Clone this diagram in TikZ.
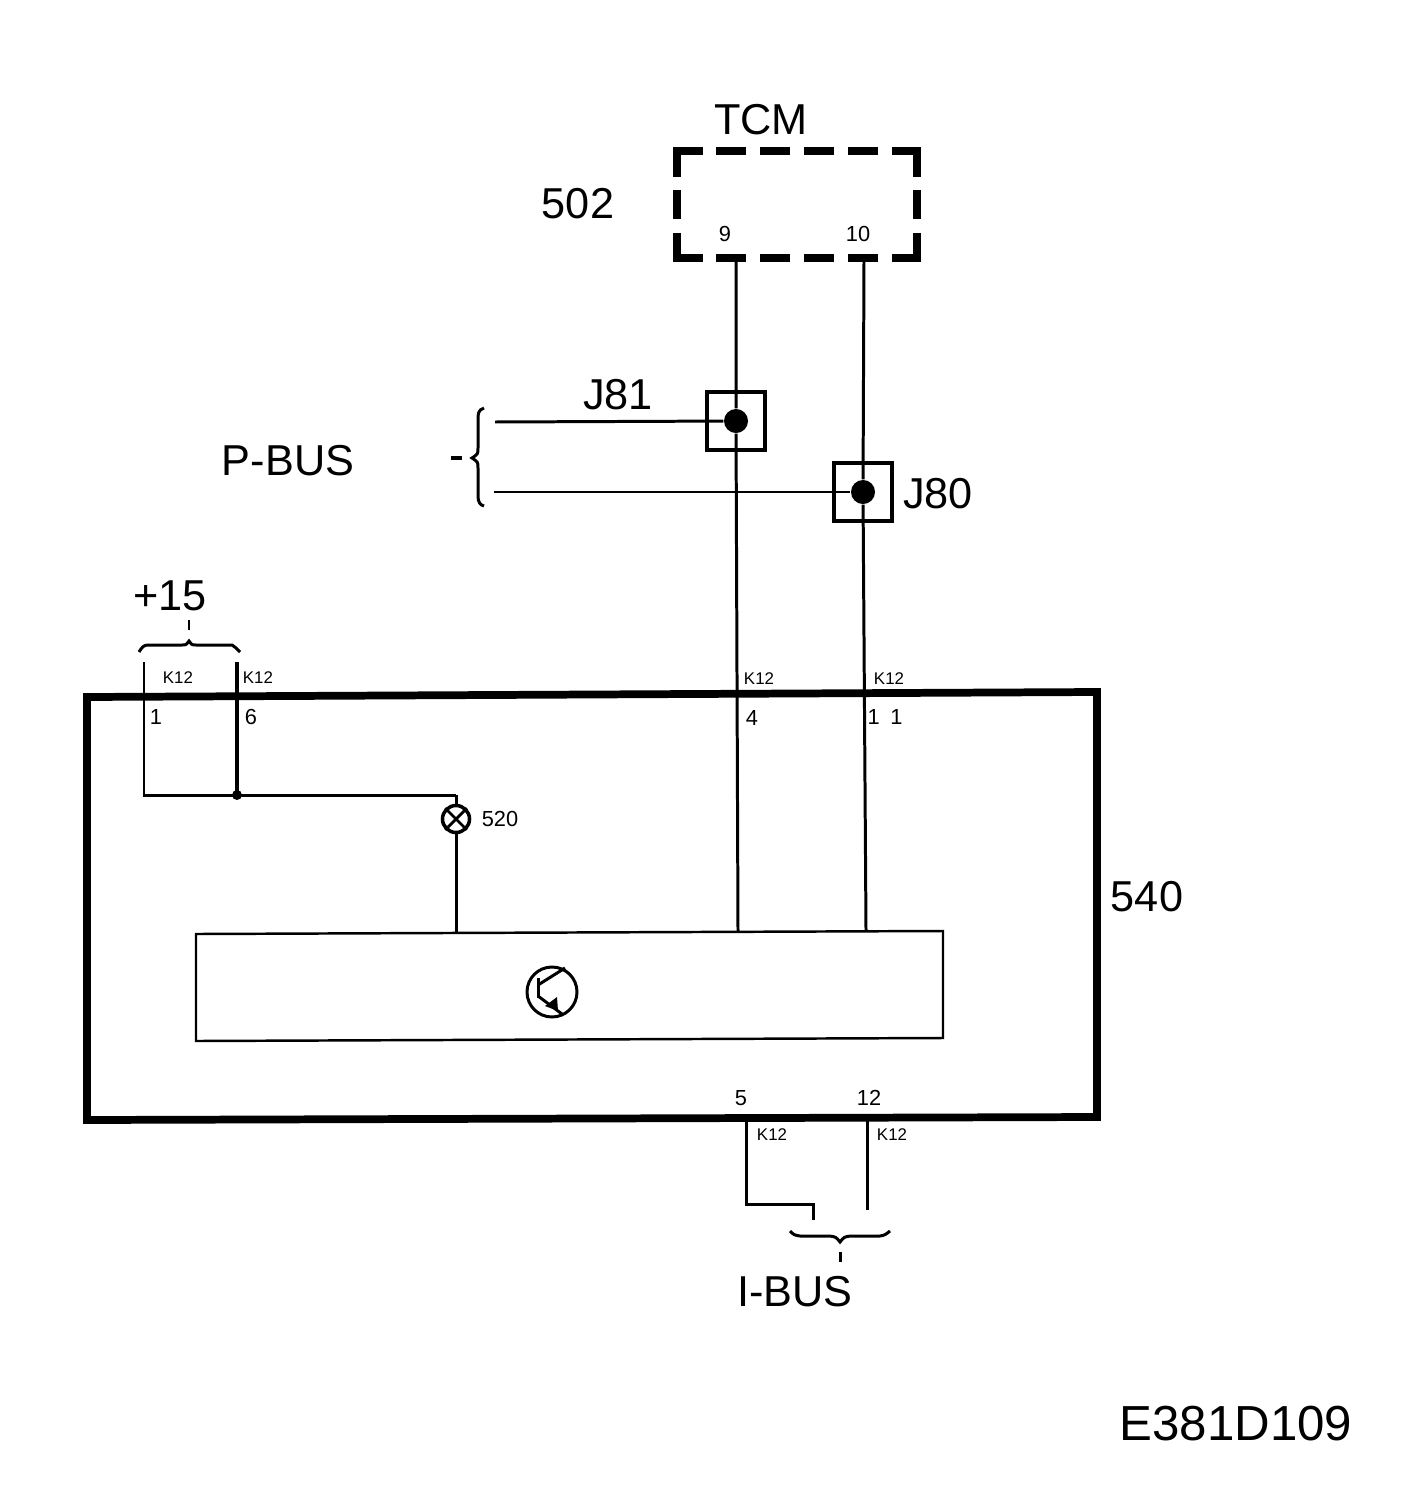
\documentclass[tikz,border=0pt]{standalone}
\usepackage{fontspec}
\setmainfont{Liberation Sans}
\usetikzlibrary{calc}
\tikzset{
	wire/.style={line width=0.85pt},
	frameline/.style={line width=2.2pt},
	tcmline/.style={line width=2.3pt},
	bigtext/.style={inner sep=0pt, font=\fontsize{12.3}{12.3}\selectfont},
	pintext/.style={inner sep=0pt, font=\fontsize{6.2}{6.2}\selectfont},
	ktext/.style={inner sep=0pt, font=\fontsize{4.8}{4.8}\selectfont},
	splicebox/.style={draw, line width=1pt, minimum size=0.58cm, inner sep=0pt},
	splicedot/.style={circle, fill=black, minimum size=0.24cm, inner sep=0pt},
}
\begin{document}
\begin{tikzpicture}[x=0.01cm, y=-0.01cm]
		%%%%% START %%%%%
		\useasboundingbox (0, 0) rectangle (1408, 1494);
		
		% TCM
		\draw[tcmline] (703, 151) -- (677, 151) -- (677, 177);
		\draw[tcmline] (892, 151) -- (917, 151) -- (917, 177);
		\draw[tcmline] (677, 233) -- (677, 258) -- (703, 258);
		\draw[tcmline] (917, 233) -- (917, 258) -- (892, 258);
		\draw[tcmline] (677, 190) -- (677, 219);
		\draw[tcmline] (917, 190) -- (917, 219);
		\foreach \x in {716, 760, 804, 848} {
			\draw[tcmline] (\x, 151) -- ++(30, 0);
			\draw[tcmline] (\x, 258) -- ++(30, 0);
		}
		\node[bigtext] (tcm) at (761, 120) {TCM};
		\node[bigtext] (n502) at (578, 204) {502};
		\node[pintext] (p9) at (725, 234) {9};
		\node[pintext] (p10) at (858, 234) {10};
		\coordinate (pin9) at (736, 260);
		\coordinate (pin10) at (864, 260);
		
		% module 540
		\coordinate (m4) at (738, 931);
		\coordinate (m11) at (866, 930);
		\draw[frameline, line join=miter] (87, 697) -- (1097, 692) -- (1097, 1117) -- (87, 1120) -- cycle;
		\draw[line width=0.7pt] (196, 934) -- (943, 931) -- (943, 1038) -- (196, 1041) -- cycle;
		\node[bigtext] (n540) at (1147, 897) {540};
		
		% splices
		\node[splicebox, fill=white] (j81) at (736, 421) {};
		\node[splicebox, fill=white] (j80) at (863, 492) {};
		\node[splicedot] (d81) at (736, 421) {};
		\node[splicedot] (d80) at (863, 492) {};
		\node[bigtext] (l81) at (618, 395) {J81};
		\node[bigtext] (l80) at (938, 494) {J80};
		\draw[wire] (pin9) -- (d81) -- (m4);
		\draw[wire] (pin10) -- (d80) -- (m11);
		
		% P-BUS
		\coordinate (b81) at (495, 422);
		\coordinate (b80) at (494, 492);
		\draw[wire] (b81) -- (d81);
		\draw[wire] (b80) -- (d80);
		\draw[wire] (484, 408) .. controls (478, 410) and (478, 414) .. (478, 420) -- (478, 448) .. controls (478, 454) .. (472, 458) .. controls (478, 462) .. (478, 468) -- (478, 496) .. controls (478, 502) and (480, 505) .. (484, 506);
		\draw[line width=1.3pt] (451, 458) -- (462, 458);
		\node[bigtext] (pbus) at (288, 461) {P-BUS};
		
		% +15
		\node[bigtext] (n15) at (170, 596) {+15};
		\draw[wire] (189, 620) -- (189, 630);
		\draw[wire] (139, 652) .. controls (142, 647) and (144, 645) .. (148, 645) -- (182, 645) .. controls (186, 645) .. (189, 641) .. controls (192, 645) .. (196, 645) -- (232, 645) .. controls (235, 647) .. (240, 652);
		\coordinate (t1) at (144, 662);
		\coordinate (t6) at (237, 662);
		\coordinate (jn) at (237, 795);
		\coordinate (lamptop) at (456, 795);
		\draw[wire] (t1) -- (144, 795) -- (jn) -- (lamptop);
		\draw[line width=1pt] (t6) -- (jn);
		\fill (jn) circle (5);
		\node[ktext] (k1) at (178, 678) {K12};
		\node[ktext] (k6) at (258, 678) {K12};
		\node[ktext] (k4) at (759, 679) {K12};
		\node[ktext] (k11) at (889, 679) {K12};
		\node[pintext] (p1) at (156, 717) {1};
		\node[pintext] (p6) at (251, 717) {6};
		\node[pintext] (p4) at (752, 718) {4};
		\node[pintext] (p11) at (885, 717) {1\hspace{3pt}1};
		
		% lamp
		\node[draw, circle, line width=1pt, minimum size=0.27cm, inner sep=0pt] (lamp) at (456, 819) {};
		\draw[wire] (lamptop) -- (lamp);
		\draw[line width=0.8pt] (lamp.north west) -- (lamp.south east);
		\draw[line width=0.8pt] (lamp.north east) -- (lamp.south west);
		\draw[wire] (lamp) -- (456, 933);
		\node[pintext] (n520) at (500, 819) {520};
		
		% transistor
		\draw[wire] (552, 992) circle (25);
		\draw[wire] (538, 978) -- (538, 998);
		\draw[wire] (538, 985) -- (565, 968);
		\draw[wire] (538, 996) -- (562, 1014);
		\fill (545, 1006) -- (557, 997) -- (558, 1011) -- cycle;
		
		% I-BUS
		\node[pintext] (p5) at (741, 1098) {5};
		\node[pintext] (p12) at (869, 1098) {12};
		\node[ktext] (k5) at (772, 1135) {K12};
		\node[ktext] (k12) at (892, 1135) {K12};
		\coordinate (e5) at (813, 1220);
		\coordinate (e12) at (867, 1210);
		\draw[wire] (746, 1119) -- (746, 1204) -- (813, 1204) -- (e5);
		\draw[wire] (867, 1118) -- (e12);
		\draw[wire] (790, 1231) .. controls (794, 1235) .. (800, 1236) -- (830, 1236) .. controls (836, 1237) .. (840, 1242) .. controls (844, 1237) .. (850, 1236) -- (880, 1236) .. controls (885, 1235) .. (890, 1231);
		\draw[wire] (840, 1252) -- (840, 1262);
		\node[bigtext] (ibus) at (795, 1292) {I-BUS};
		
		\node[inner sep=0pt, font=\fontsize{14}{14}\selectfont] (code) at (1236, 1424) {E381D109};
		%%%%% END %%%%%
	\end{tikzpicture}
\end{document}
